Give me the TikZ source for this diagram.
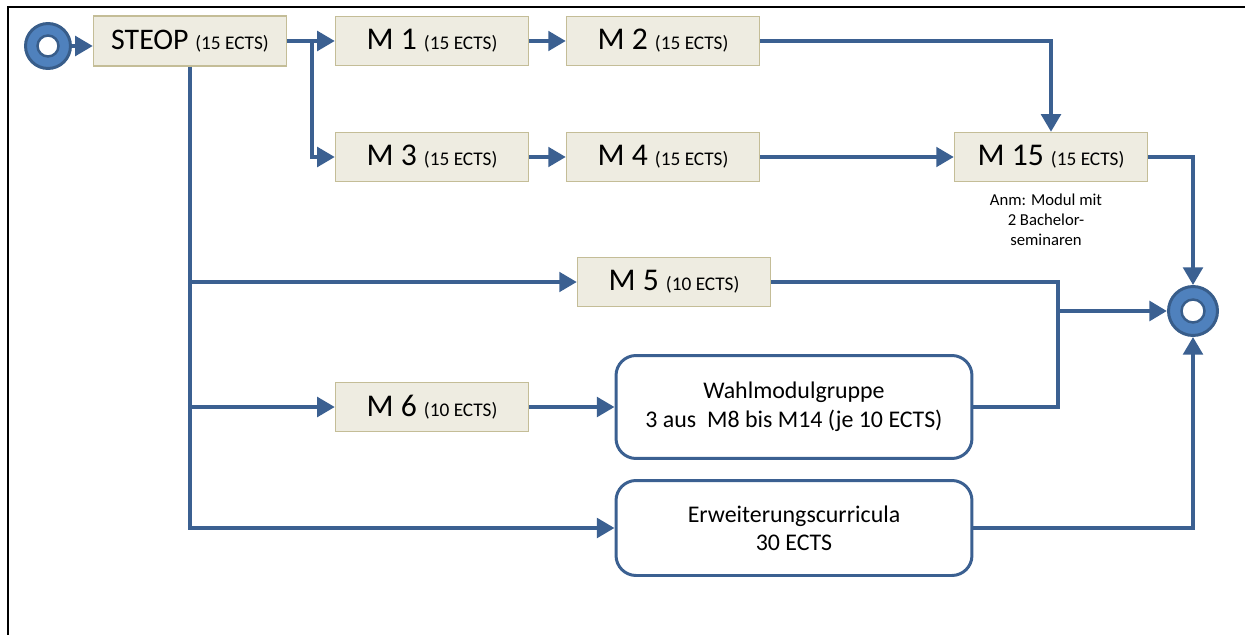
\documentclass[tikz,border=0pt]{standalone}
\usepackage{fontspec}
\setmainfont{Carlito}
\usetikzlibrary{arrows.meta, positioning}

\definecolor{flowblue}{RGB}{59,96,145}
\definecolor{ringblue}{RGB}{79,129,189}
\definecolor{ringdark}{RGB}{56,93,138}
\definecolor{modfill}{RGB}{238,236,225}
\definecolor{modline}{RGB}{196,189,151}

\newcommand{\ects}[1]{{\fontsize{11}{13}\selectfont (#1 ECTS)}}

\begin{document}
\begin{tikzpicture}[x=0.02cm, y=-0.02cm,
   modbox/.style={rectangle, draw=modline, fill=modfill, line width=0.8pt,
      minimum width=3.86cm, minimum height=0.98cm, inner sep=0pt,
      font=\fontsize{18}{20}\selectfont},
   groupbox/.style={rectangle, rounded corners=0.4cm, draw=flowblue, fill=white,
      line width=1.7pt, minimum width=7.12cm, minimum height=2.06cm,
      align=center, font=\fontsize{13.6}{16.4}\selectfont},
   ring/.style={circle, draw=ringdark, fill=ringblue, line width=1.7pt,
      minimum size=0.9cm, inner sep=0pt},
   hole/.style={circle, draw=ringdark, fill=white, line width=1.4pt,
      minimum size=0.42cm, inner sep=0pt},
   wire/.style={draw=flowblue, line width=2.3pt},
   flow/.style={wire, -{Triangle[length=10pt, width=11pt]}}]
   \useasboundingbox (0,0) rectangle (1245,635);
   \draw[line width=1.7pt] (8,635) -- (8,7) -- (1245,7);

   \node[ring] (start) at (48,46) {};
   \node[hole] (start-in) at (start) {};
   \node[modbox, minimum height=1.0cm] (steop) at (190,41) {\fontsize{17}{19}\selectfont STEOP \ects{15}};
   \node[modbox] (m1) at (432,41) {M 1 \ects{15}};
   \node[modbox] (m2) at (663,41) {M 2 \ects{15}};
   \node[modbox] (m3) at (432,157) {M 3 \ects{15}};
   \node[modbox] (m4) at (663,157) {M 4 \ects{15}};
   \node[modbox] (m15) at (1051,157) {M 15 \ects{15}};
   \node[font=\fontsize{9.5}{11.3}\selectfont, align=center] (anm) at (1046,220) {Anm: Modul mit\\2 Bachelor-\\seminaren};
   \node[modbox] (m5) at (674,282) {M 5 \ects{10}};
   \node[modbox] (m6) at (432,407) {M 6 \ects{10}};
   \node[groupbox] (wahl) at (794,407) {Wahlmodulgruppe\\3 aus~ M8 bis M14 (je 10 ECTS)};
   \node[groupbox, minimum height=1.9cm, font=\fontsize{13.6}{16}\selectfont] (erw) at (794,528) {Erweiterungscurricula\\30 ECTS};
   \node[ring, minimum size=0.98cm] (end) at (1193,311) {};
   \node[hole, minimum size=0.46cm] (end-in) at (end) {};

   \coordinate (split) at (312,41);
   \coordinate (join) at (1058,311);

   \draw[flow] (start.east) -- (start.east -| steop.west);
   \draw[flow] (steop) -- (m1);
   \draw[flow] (split) |- (m3.west);
   \draw[flow] (m1) -- (m2);
   \draw[flow] (m2.east) -| (m15.north);
   \draw[flow] (m3) -- (m4);
   \draw[flow] (m4) -- (m15);
   \draw[flow] (m15.east) -| (end.north);
   \draw[flow] (steop.south) |- (erw.west);
   \draw[flow] (steop.south |- m5.west) -- (m5.west);
   \draw[flow] (steop.south |- m6.west) -- (m6.west);
   \draw[flow] (m6) -- (wahl);
   \draw[wire] (m5.east) -| (join) |- (wahl.east);
   \draw[flow, line width=2.8pt] (join) -- (end.west);
   \draw[flow] (erw.east) -| (end.south);
\end{tikzpicture}
\end{document}
